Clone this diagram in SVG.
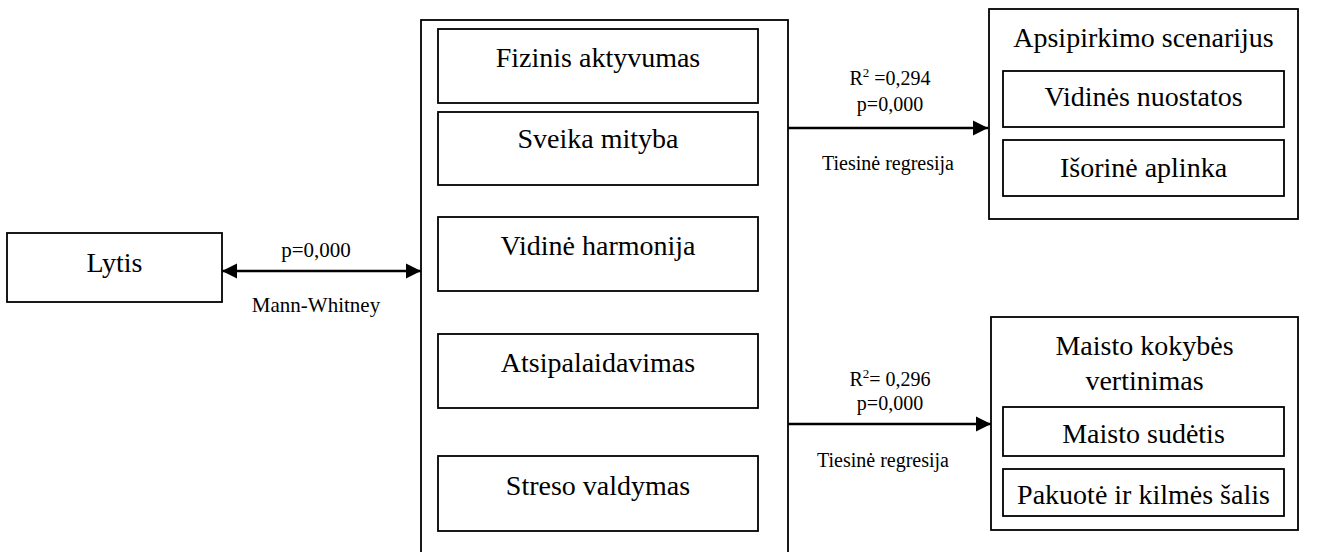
<svg xmlns="http://www.w3.org/2000/svg" width="1331" height="552" viewBox="0 0 1331 552">
<style>
.box{fill:#fff;stroke:#000;stroke-width:1.8}
.big{font-family:"Liberation Serif","Times New Roman",serif;font-size:28px;fill:#000;text-anchor:middle}
.lbl{font-family:"Liberation Serif","Times New Roman",serif;font-size:20px;fill:#000;text-anchor:middle}
.lbl21{font-family:"Liberation Serif","Times New Roman",serif;font-size:21px;fill:#000;text-anchor:middle}
.sup{font-size:13px}
.conn{stroke:#000;stroke-width:2.6;fill:none}
</style>
<defs>
<marker id="ah" markerUnits="userSpaceOnUse" markerWidth="16" markerHeight="16" refX="15" refY="8" orient="auto-start-reverse">
<path d="M0,0.5 L15,8 L0,15.5 z" fill="#000"/>
</marker>
</defs>
<rect width="1331" height="552" fill="#fff"/>

<g id="lytis">
<rect class="box" x="7" y="233" width="215" height="69"/>
<text class="big" x="114.5" y="272">Lytis</text>
</g>

<g id="main">
<rect class="box" x="421" y="20" width="367" height="560"/>
</g>
<g id="fizinis">
<rect class="box" x="438" y="29" width="320" height="74"/>
<text class="big" x="598" y="67">Fizinis aktyvumas</text>
</g>
<g id="sveika">
<rect class="box" x="438" y="112" width="320" height="73"/>
<text class="big" x="598" y="148">Sveika mityba</text>
</g>
<g id="vidine">
<rect class="box" x="438" y="217" width="320" height="74"/>
<text class="big" x="598" y="255">Vidinė harmonija</text>
</g>
<g id="atsipalaidavimas">
<rect class="box" x="438" y="334" width="320" height="74"/>
<text class="big" x="598" y="372">Atsipalaidavimas</text>
</g>
<g id="streso">
<rect class="box" x="438" y="456" width="320" height="75"/>
<text class="big" x="598" y="495">Streso valdymas</text>
</g>

<g id="apsipirkimo">
<rect class="box" x="989" y="9" width="309" height="210"/>
<text class="big" x="1143.5" y="47">Apsipirkimo scenarijus</text>
</g>
<g id="nuostatos">
<rect class="box" x="1003" y="71" width="281" height="56"/>
<text class="big" x="1143.5" y="106">Vidinės nuostatos</text>
</g>
<g id="aplinka">
<rect class="box" x="1003" y="140" width="281" height="56"/>
<text class="big" x="1143.5" y="177">Išorinė aplinka</text>
</g>

<g id="kokybe">
<rect class="box" x="991" y="317" width="307" height="213"/>
<text class="big" x="1144.5" y="355">Maisto kokybės</text>
<text class="big" x="1144.5" y="390">vertinimas</text>
</g>
<g id="sudetis">
<rect class="box" x="1003" y="407" width="281" height="49"/>
<text class="big" x="1143.5" y="443">Maisto sudėtis</text>
</g>
<g id="pakuote">
<rect class="box" x="1003" y="469" width="281" height="47"/>
<text class="big" x="1143.5" y="504">Pakuotė ir kilmės šalis</text>
</g>

<g id="connectors">
<line class="conn" x1="222" y1="271" x2="421" y2="271" marker-start="url(#ah)" marker-end="url(#ah)"/>
<line class="conn" x1="788" y1="128" x2="988" y2="128" marker-end="url(#ah)"/>
<line class="conn" x1="788" y1="424" x2="991" y2="424" marker-end="url(#ah)"/>
<text class="lbl21" x="316" y="257">p=0,000</text>
<text class="lbl21" x="316" y="312">Mann-Whitney</text>
<text class="lbl" x="890" y="85">R<tspan class="sup" dy="-8">2</tspan><tspan dy="8"> =0,294</tspan></text>
<text class="lbl" x="890" y="111">p=0,000</text>
<text class="lbl" x="888" y="170">Tiesinė regresija</text>
<text class="lbl" x="890" y="386">R<tspan class="sup" dy="-8">2</tspan><tspan dy="8">= 0,296</tspan></text>
<text class="lbl" x="890" y="410">p=0,000</text>
<text class="lbl" x="883" y="467">Tiesinė regresija</text>
</g>
</svg>
